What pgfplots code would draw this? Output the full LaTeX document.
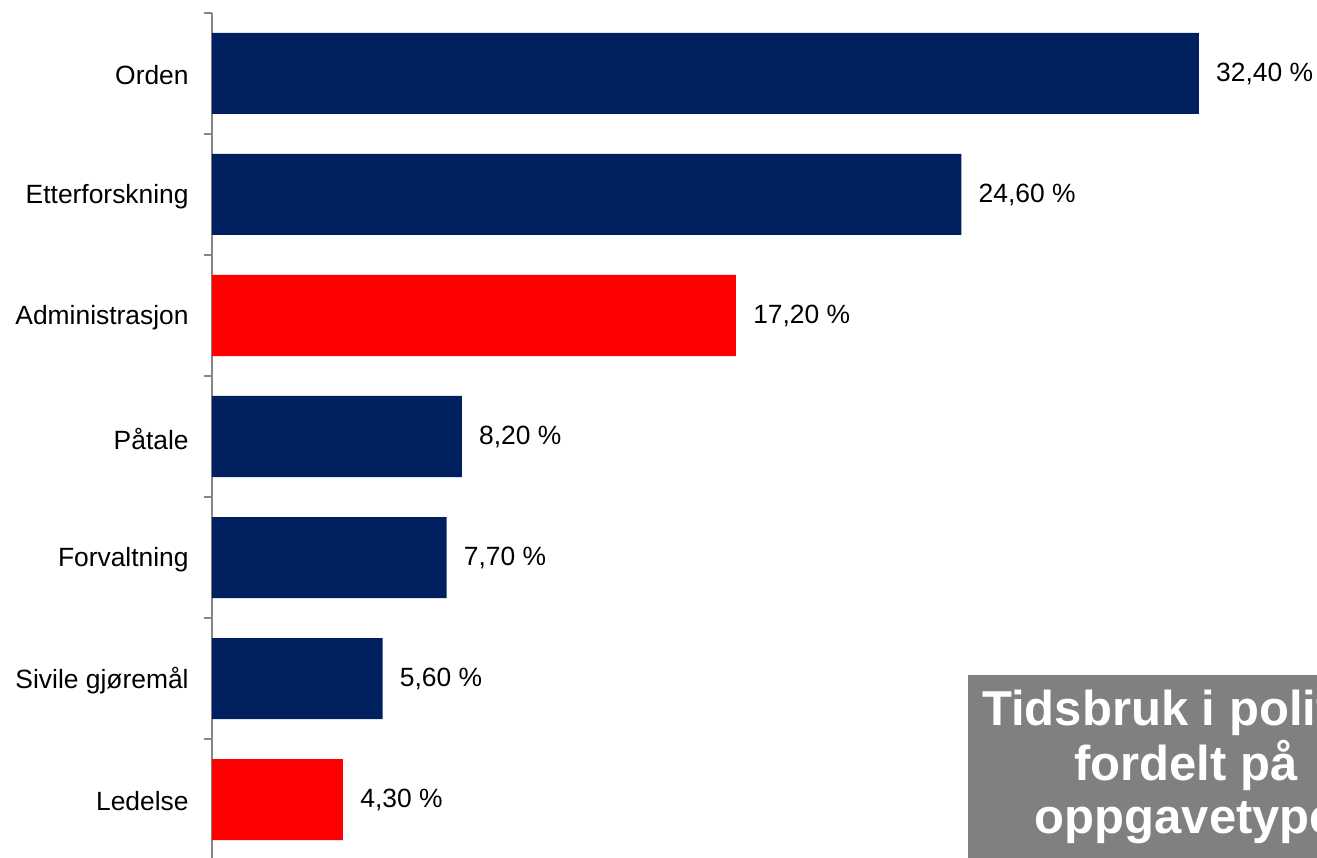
\documentclass[border=0pt]{standalone}
\usepackage{pgfplots}
\pgfplotsset{compat=1.18}
\usepackage{fontspec}
\setmainfont{Liberation Sans}
\definecolor{navy}{RGB}{0,32,96}
\definecolor{axgray}{RGB}{134,134,134}
\definecolor{boxgray}{RGB}{128,128,128}
\begin{document}
\begin{tikzpicture}
\useasboundingbox (-106pt,1.5pt) rectangle (552.5pt,430pt);
\clip (-106pt,1.5pt) rectangle (552.5pt,430pt);
\begin{axis}[
    at={(0,0)}, anchor=south west,
    scale only axis,
    width=552.5pt, height=423.5pt,
    xbar, bar width=40.5pt, bar shift=0pt,
    xmin=0, xmax=36.28,
    ymin=-0.5, ymax=6.5,
    axis x line=none,
    axis y line*=left,
    y axis line style={axgray, line width=0.8pt},
    ytick={0,1,2,3,4,5,6},
    yticklabels={Ledelse, Sivile gjøremål, Forvaltning, Påtale, Administrasjon, Etterforskning, Orden},
    major tick length=0pt,
    minor ytick={-0.5,0.5,1.5,2.5,3.5,4.5,5.5,6.5},
    minor tick length=4pt,
    tick align=outside,
    minor tick style={axgray, line width=0.8pt},
    yticklabel style={font=\fontsize{13.2}{15}\selectfont, anchor=east, xshift=-11.5pt, yshift=-1pt, inner sep=0pt},
    /pgf/number format/assume math mode=true,
    nodes near coords={\pgfmathprintnumber[fixed,fixed zerofill,precision=2,use comma]{\pgfplotspointmeta}~\%},
    every node near coord/.append style={font=\fontsize{13.2}{15}\selectfont, anchor=west, inner sep=0pt, xshift=8.5pt, black},
]
\addplot[fill=navy, draw=none] coordinates {
    (32.4,6) (24.6,5) (8.2,3) (7.7,2) (5.6,1)
};
\addplot[fill=red, draw=none] coordinates {
    (17.2,4) (4.3,0)
};
\end{axis}
\fill[boxgray] (378pt,0pt) rectangle (596pt,92.5pt);
\begin{scope}[every node/.style={text=white, font=\fontsize{24.5}{27}\selectfont\bfseries, anchor=base, inner sep=0pt}]
\node at (487pt,67.5pt) {Tidsbruk i politiet};
\node at (487pt,40pt) {fordelt på};
\node at (487pt,13.5pt) {oppgavetype};
\end{scope}
\end{tikzpicture}
\end{document}
